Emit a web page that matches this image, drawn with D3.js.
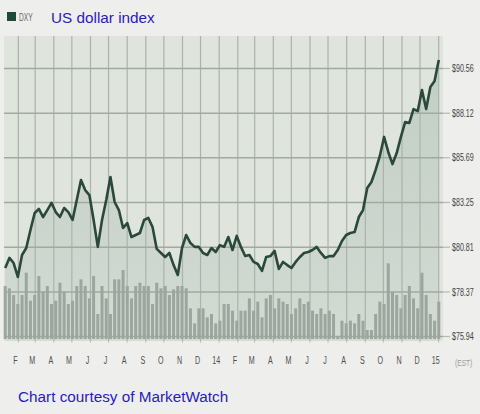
<!DOCTYPE html>
<html>
<head>
<meta charset="utf-8">
<script src="https://cdn.jsdelivr.net/npm/d3@7"></script>
<style>
  html, body { margin: 0; padding: 0; background: #eeeeec; }
  svg { display: block; font-family: "Liberation Sans", Arial, sans-serif; }
</style>
</head>
<body>
<svg id="chart" width="480" height="414"></svg>
<script>
// weekly closes of the dollar index, first week ending Jan 11 2013
const firstWeek = new Date(2013, 0, 11);
const dxyClose = [
  79.65, 80.20, 79.92, 79.16, 80.36, 80.74, 81.72, 82.65, 82.87, 82.43,
  82.81, 83.20, 82.70, 82.43, 82.92, 82.70, 82.27, 83.36, 84.45, 83.90,
  83.63, 82.27, 80.80, 82.27, 83.36, 84.61, 83.25, 82.81, 81.83, 82.10,
  81.34, 81.45, 81.56, 82.27, 82.38, 81.89, 80.69, 80.47, 80.25, 80.47,
  79.81, 79.27, 80.74, 81.45, 81.01, 80.80, 80.80, 80.47, 80.36, 80.74,
  80.52, 80.90, 80.80, 81.34, 80.63, 81.40, 80.80, 80.30, 80.36, 79.98,
  79.87, 79.49, 80.25, 80.30, 80.58, 79.60, 79.98, 79.81, 79.65, 79.98,
  80.25, 80.47, 80.52, 80.63, 80.80, 80.47, 80.20, 80.30, 80.30, 80.63,
  81.12, 81.45, 81.56, 81.61, 82.43, 82.81, 84.01, 84.34, 85.00, 85.76,
  86.80, 85.98, 85.32, 85.92, 86.80, 87.61, 87.56, 88.32, 88.21, 89.36,
  88.32, 89.52, 89.85, 91.00
];
// weekly volume (relative units)
const volume = [
  159, 152, 132, 105, 132, 199, 115, 132, 189, 142,
  159, 105, 115, 169, 142, 105, 115, 159, 179, 159,
  122, 189, 75, 159, 122, 75, 179, 179, 207, 159,
  122, 159, 169, 159, 159, 105, 169, 152, 159, 132,
  149, 159, 159, 152, 92, 47, 92, 92, 65, 75,
  47, 55, 105, 105, 85, 55, 85, 85, 122, 85,
  112, 65, 122, 132, 92, 122, 112, 105, 75, 92,
  122, 105, 112, 85, 75, 92, 75, 85, 75, 7,
  55, 47, 55, 47, 75, 55, 27, 27, 75, 112,
  105, 227, 142, 132, 92, 132, 159, 122, 92, 199,
  132, 75, 55, 112
];
const priceTicks = [75.94, 78.37, 80.81, 83.25, 85.69, 88.12, 90.56];
const monthLabels = ["F", "M", "A", "M", "J", "J", "A", "S", "O", "N", "D", "14",
                     "F", "M", "A", "M", "J", "J", "A", "S", "O", "N", "D", "15"];

const svg = d3.select("#chart");
const plotL = 4, plotR = 443, plotT = 36, plotB = 341;
const narrow = 0.62; // condensed look of the axis lettering

const x = d3.scaleTime()
  .domain([new Date(2013, 0, 9), new Date(2015, 0, 9)])
  .range([plotL, plotR]);
const y = d3.scaleLinear().domain([75.94, 90.56]).range([336, 68]);
const vol = d3.scaleLinear().domain([0, 300]).range([339, 239]);

const weeks = dxyClose.map((v, i) => ({ date: d3.timeDay.offset(firstWeek, 7 * i), v, vol: volume[i] }));
const monthStarts = d3.timeMonth.range(new Date(2013, 1, 1), new Date(2015, 0, 2));

// plot background
svg.append("rect")
  .attr("x", plotL).attr("y", plotT)
  .attr("width", plotR - plotL).attr("height", plotB - plotT)
  .attr("fill", "#dfe4dd");

const defs = svg.append("defs");
const grad = defs.append("linearGradient")
  .attr("id", "areaFill")
  .attr("gradientUnits", "userSpaceOnUse")
  .attr("x1", 0).attr("x2", 0).attr("y1", 60).attr("y2", plotB);
grad.append("stop").attr("offset", 0).attr("stop-color", "#c2cec5");
grad.append("stop").attr("offset", 1).attr("stop-color", "#d3dbd3");

// area under the line
svg.append("path")
  .datum(weeks)
  .attr("fill", "url(#areaFill)")
  .attr("d", d3.area().x(d => x(d.date)).y0(plotB).y1(d => y(d.v)));

// vertical grid
svg.append("g")
  .attr("transform", `translate(0,${plotB})`)
  .call(d3.axisBottom(x).tickValues(monthStarts).tickSize(-(plotB - plotT)).tickFormat(""))
  .call(g => g.select(".domain").remove())
  .call(g => g.selectAll(".tick line").attr("stroke", "#aab4ab").attr("stroke-width", 1.2));

// horizontal grid
svg.append("g")
  .attr("transform", `translate(${plotR},0)`)
  .call(d3.axisLeft(y).tickValues(priceTicks).tickSize(plotR - plotL).tickFormat(""))
  .call(g => g.select(".domain").remove())
  .call(g => g.selectAll(".tick line").attr("stroke", "#a0aaa1").attr("stroke-width", 1.5));

// volume bars
svg.append("g")
  .selectAll("rect")
  .data(weeks)
  .join("rect")
  .attr("x", d => x(d.date) - 1.5)
  .attr("width", 3)
  .attr("y", d => vol(d.vol))
  .attr("height", d => vol(0) - vol(d.vol))
  .attr("fill", "#9ca59e");

// price line
svg.append("path")
  .datum(weeks)
  .attr("fill", "none")
  .attr("stroke", "#2a493c")
  .attr("stroke-width", 2.6)
  .attr("stroke-linejoin", "round")
  .attr("d", d3.line().x(d => x(d.date)).y(d => y(d.v)));

// price axis on the right
svg.append("g")
  .attr("transform", `translate(${plotR},0)`)
  .call(d3.axisRight(y).tickValues(priceTicks).tickSize(7).tickPadding(2)
    .tickFormat(d => "$" + d3.format(".2f")(d)))
  .call(g => g.select(".domain").remove())
  .call(g => g.selectAll(".tick line").attr("stroke", "#b5bab5").attr("stroke-width", 1.2))
  .call(g => g.selectAll(".tick text")
    .attr("fill", "#444").attr("font-size", 11.5)
    .attr("font-family", "'Liberation Sans', Arial, sans-serif")
    .attr("x", 9 / narrow)
    .attr("transform", `scale(${narrow},1)`));

// month axis
svg.append("g")
  .attr("transform", `translate(0,${plotB})`)
  .call(d3.axisBottom(x).tickValues(monthStarts).tickSize(2).tickPadding(13)
    .tickFormat((d, i) => monthLabels[i]))
  .call(g => g.select(".domain").remove())
  .call(g => g.selectAll(".tick line").attr("stroke", "#c4c8c4"))
  .call(g => g.selectAll(".tick text")
    .attr("fill", "#4f4f4f").attr("font-size", 11.5)
    .attr("font-family", "'Liberation Sans', Arial, sans-serif")
    .attr("dx", -3 / narrow)
    .attr("transform", `scale(${narrow},1)`));

svg.append("text")
  .attr("transform", "translate(455,366) scale(0.7,1)")
  .attr("fill", "#9a9a9a").attr("font-size", 9.5)
  .text("(EST)");

// legend and title
svg.append("rect")
  .attr("x", 7).attr("y", 12).attr("width", 9).attr("height", 9)
  .attr("fill", "#1f4a3a");
svg.append("text")
  .attr("transform", "translate(19,21) scale(0.6,1)")
  .attr("fill", "#666").attr("font-size", 11)
  .text("DXY");

svg.append("text")
  .attr("x", 51).attr("y", 23)
  .attr("fill", "#2a1cbf").attr("font-size", 15.3)
  .text("US dollar index");

svg.append("text")
  .attr("x", 18).attr("y", 402)
  .attr("fill", "#2a1cbf").attr("font-size", 15.3)
  .text("Chart courtesy of MarketWatch");
</script>
</body>
</html>
